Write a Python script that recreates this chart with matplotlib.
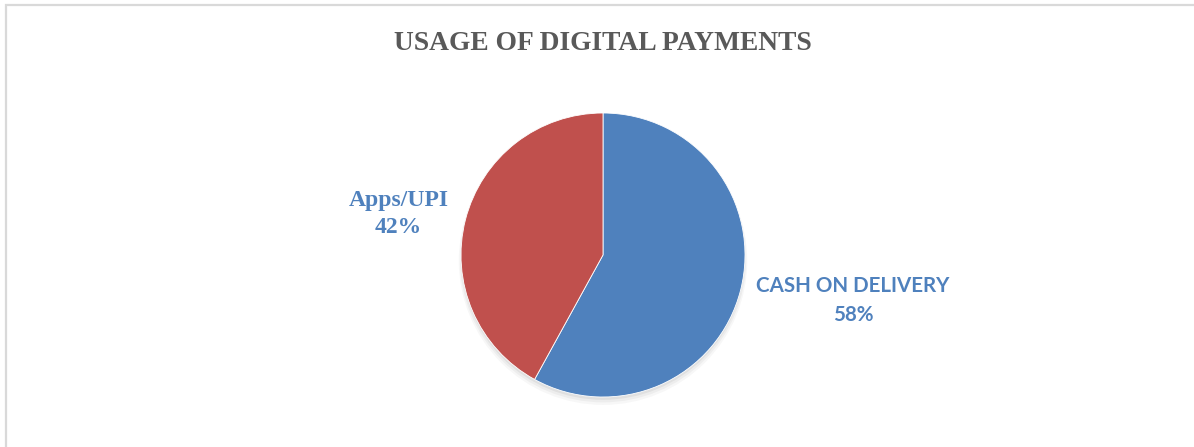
import matplotlib.pyplot as plt
from matplotlib.patches import Rectangle, Circle

# payment modes and their share of orders (%)
modes = ["CASH ON DELIVERY", "Apps/UPI"]
shares = [58, 42]
colors = ["#4F81BD", "#C0504D"]

fig = plt.figure(figsize=(11.94, 4.47), dpi=100)

# light frame around the chart area
fig.patches.append(Rectangle((6 / 1194, -0.01), 1.1, 1 - 5 / 447 + 0.01,
                             transform=fig.transFigure, fill=False,
                             edgecolor="#D9D9D9", linewidth=1.6))

fig.text(603 / 1194, 1 - 44 / 447, "USAGE OF DIGITAL PAYMENTS", ha="center", va="center",
         fontsize=19.8, fontweight="bold", family="Liberation Serif", color="#595959")

ax = fig.add_axes([461 / 1194, 50 / 447, 284 / 1194, 284 / 447])
ax.axis("off")

# soft drop shadow under the pie
for i, a in enumerate([0.05, 0.04, 0.03]):
    ax.add_patch(Circle((0.0, -0.02 - 0.01 * i), 1.0 + 0.008 * i, color="black",
                        alpha=a, lw=0, zorder=0, clip_on=False))

wedges, _ = ax.pie(shares, colors=colors, startangle=90, counterclock=False, radius=1,
                   wedgeprops=dict(edgecolor="white", linewidth=0.6))
for w in wedges:
    w.set_zorder(2)
    w.set_clip_on(False)

# pie() resets the limits, so fix them afterwards
ax.set_xlim(-1, 1)
ax.set_ylim(-1, 1)
ax.set_aspect("equal")

ax.text(1.76, -0.32, f"{modes[0]}\n{shares[0]}%", ha="center", va="center",
        fontsize=14.8, fontweight="bold", family="Lato", color="#4F81BD",
        linespacing=1.55, clip_on=False)
ax.text(-1.44, 0.29, f"{modes[1]}\n{shares[1]}%", ha="center", va="center",
        fontsize=17, fontweight="bold", family="Liberation Serif", color="#4F81BD",
        linespacing=1.4, clip_on=False)

fig.savefig("out.png", dpi=100)
